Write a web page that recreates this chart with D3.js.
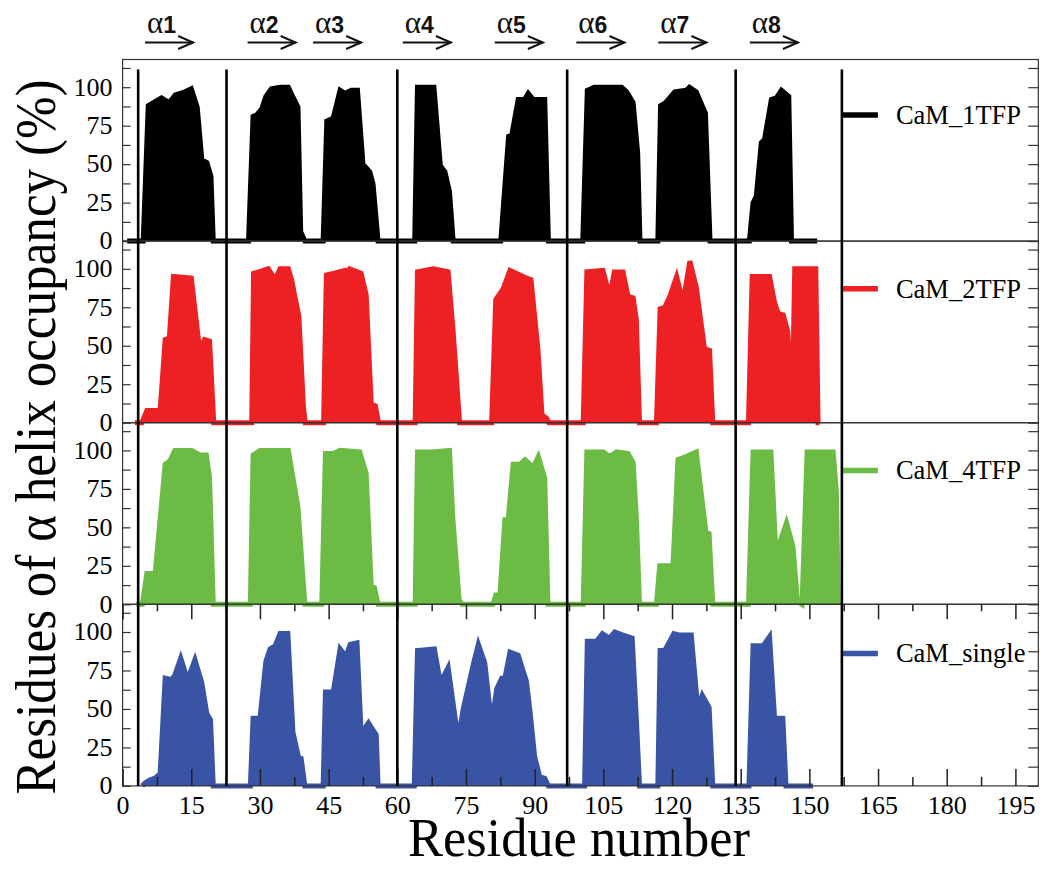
<!DOCTYPE html>
<html>
<head>
<meta charset="utf-8">
<script src="https://cdn.jsdelivr.net/npm/d3@7"></script>
<style>
body { margin: 0; background: #fff; }
</style>
</head>
<body>
<div id="chart"></div>
<script>

var seriesNames = ["CaM_1TFP", "CaM_2TFP", "CaM_4TFP", "CaM_single"];
var seriesColors = ["#000000", "#ed2024", "#6bbb45", "#3953a5"];

// [residue, helix occupancy %] vertices
var oneTFP = [[1,0],[4.5,0],[5.6,88],[6.7,90],[8.5,93],[10.2,90],[11.5,95],[13.6,97],[15,99],[16.3,87],[17.3,53],[18.4,51],[19.3,42],[19.8,0],
    [27.5,0],[28.5,81],[29.3,82],[30.4,86],[31.3,94],[32.5,99],[34.4,100],[36.2,100],[37.3,93],[38.3,87],[38.9,6],[39.8,0],
    [43.8,0],[44.6,78],[46,80],[47.5,98],[48.6,96],[50,98],[51.3,98],[52.5,50],[54,45],[54.7,37],[55.8,0],
    [63.8,0],[64.4,100],[68,100],[69.4,49],[70.4,45],[71.4,32],[72.2,0],
    [82.6,0],[84.3,68],[85,69],[86.4,92],[87.8,92],[88.6,96],[89.7,92],[92.2,92],[93,0],
    [100.5,0],[101.5,98],[103,100],[109,100],[110.1,97],[111.5,90],[112.5,57],[113,0],
    [116.9,0],[117.5,88],[118.6,90],[120.6,97],[123.1,98],[123.8,100],[125.3,97],[127.3,83],[128.3,0],
    [136.9,0],[137.7,25],[138.4,29],[139.5,64],[140.2,66],[141.7,92],[142.8,93],[143.9,98],[145.5,94],[146.1,0],[151.7,0]];

var twoTFP = [[2.7,0],[4.2,0],[5.3,8],[8.2,8],[9.3,54],[10.2,55],[11.1,95],[15,94],[16.8,48],[17.9,54],[19,53],[19.9,0],
    [28.2,0],[28.6,97],[30.7,99],[31.8,100],[33.3,93],[34.4,100],[36.2,100],[36.9,93],[38.5,69],[39.5,10],[39.9,0],
    [43.9,0],[44.5,96],[46,97],[48.6,99],[49,97],[49.6,100],[52.1,97],[53.2,83],[54.3,12],[55.2,11],[55.9,0],
    [63.9,0],[64.4,98],[67.9,100],[71.1,98],[72.2,59],[73.6,0],
    [80.6,0],[81.5,80],[83.1,87],[84.6,99],[86.8,96],[88.2,94],[89.2,93],[90.7,48],[91.6,5],[92.6,3],[93.1,0],
    [100.6,0],[101.4,98],[104.9,99],[106.4,82],[107.4,98],[109.3,98],[110.4,82],[111.5,81],[112.2,67],[112.9,0],
    [116.6,0],[117.4,74],[118.4,75],[119.5,82],[121,95],[122.4,78],[123.9,105],[125.3,88],[127.1,48],[128.2,47],[128.9,0],
    [136.7,0],[137.5,95],[141.3,95],[142.4,78],[143.2,71],[144.3,70],[145.3,59],[146.2,0],[146.8,100],[151.4,100],[151.9,0],[152.2,0]];

var fourTFP = [[3,0],[4.3,0],[5.3,20],[7.1,20],[9.3,91],[10.3,93],[11.4,100],[15.1,100],[16.9,97],[18.3,97],[19,82],[19.8,0],
    [27.9,0],[28.5,97],[30,100],[36.2,100],[38.3,63],[39.8,0],
    [43.5,0],[44.3,98],[46,98],[47.5,100],[51.8,99],[53.2,85],[54.3,12],[55,11],[55.8,0],
    [63.9,0],[64.4,99],[67.5,99],[71.4,100],[72.1,57],[73.5,3],[74.1,0],
    [80.9,0],[81.5,6],[82.4,6],[83.5,55],[84.2,55],[85.3,91],[86.8,91],[87.9,94],[89.7,89],[90.8,96],[92.2,82],[92.9,0],
    [100.6,0],[101.4,99],[105,99],[106.4,96],[107.9,99],[110.4,98],[111.5,92],[112.2,57],[112.9,0],
    [116.6,0],[117.3,25],[120.2,25],[121.3,94],[123.1,96],[125.3,99],[127.4,47],[128.1,46],[128.9,0],
    [136.7,0],[137.7,99],[141.6,99],[142.7,33],[145,53],[146.4,38],[147.4,2],[148.4,0],[149.5,99],[155.2,99],[155.9,73],[156.3,0]];

var single = [[4.3,0],[4.9,2],[6,4],[7.1,5],[8.2,8],[9.3,70],[10.7,69],[11.4,72],[12.7,83],[14.2,69],[15.8,82],[17.3,67],[18.4,47],[19.2,43],[19.8,0],
    [27.9,0],[28.5,44],[30,44],[31.3,81],[32.2,89],[33.3,91],[34.4,99],[36.1,99],[37.2,35],[38.4,19],[39,18],[39.8,0],
    [43.8,0],[44.3,61],[46,61],[47.5,89],[48.8,84],[49.7,92],[51.2,93],[52.1,34],[53.7,41],[55.4,33],[55.8,0],
    [63.7,0],[64.4,88],[68.1,89],[69.4,67],[71.1,77],[73.3,30],[74.4,50],[76.6,79],[77.7,92],[79.1,80],[80.6,40],[81.7,63],[82.8,70],[83.5,70],[84.6,87],[86.4,85],[88.2,68],[89,48],[90,19],[91.1,6],[92.2,5],[93,0],
    [100.9,0],[101.5,94],[103.5,94],[104.8,99],[106.3,96],[107.5,100],[109.3,98],[111.3,96],[112.2,44],[112.9,0],
    [116.9,0],[117.4,88],[118.4,88],[120.4,99],[121.7,98],[124.2,98],[125.6,51],[126.6,59],[128.1,51],[128.9,0],
    [136.8,0],[137.7,91],[139.9,91],[141.3,97],[142.4,44],[144.2,44],[144.9,0],[150.8,0]];

var allSeries = [oneTFP, twoTFP, fourTFP, single];

// domain boundaries (residue numbers) drawn as vertical bars
var dividers = [3.4, 22.7, 60, 97.1, 133.9, 157.1];

var helixNames = ["1", "2", "3", "4", "5", "6", "7", "8"];
var helixStart = [4.9, 27.3, 41.6, 61.2, 81.3, 99.1, 117, 137];

var xTickValues = [0, 15, 30, 45, 60, 75, 90, 105, 120, 135, 150, 165, 180, 195];
var xMinorValues = [7.5, 22.5, 37.5, 52.5, 67.5, 82.5, 97.5, 112.5, 127.5, 142.5, 157.5, 172.5, 187.5];
var yTickValues = [0, 12.5, 25, 37.5, 50, 62.5, 75, 87.5, 100, 112.5];

var legendLevel = [82, 87, 87, 86];

var width = 1046, height = 869;
var left = 122.6, right = 1038.3, top0 = 59.5, panelH = 181.6;
var serif = "'Liberation Serif', 'Times New Roman', serif";

var svg = d3.select("#chart").append("svg")
    .attr("width", width)
    .attr("height", height);

var x = d3.scaleLinear().domain([0, 200]).range([left, right]);

var yScales = allSeries.map(function (s, i) {
    return d3.scaleLinear().domain([0, 118])
        .range([top0 + (i + 1) * panelH, top0 + i * panelH]);
});

//----------------------------- panels

allSeries.forEach(function (data, i) {
    var y = yScales[i];
    var g = svg.append("g");

    var area = d3.area()
        .x(function (d) { return x(d[0]); })
        .y0(y(0))
        .y1(function (d) { return y(d[1]); });
    var line = d3.line()
        .x(function (d) { return x(d[0]); })
        .y(function (d) { return y(d[1]); });

    g.append("path")
        .attr("d", area(data))
        .attr("fill", seriesColors[i]);

    g.append("path")
        .attr("d", line(data))
        .attr("fill", "none")
        .attr("stroke", seriesColors[i])
        .attr("stroke-width", 5);

    // frame
    g.append("rect")
        .attr("x", left)
        .attr("y", top0 + i * panelH)
        .attr("width", right - left)
        .attr("height", panelH)
        .attr("fill", "none")
        .attr("stroke", "#333")
        .attr("stroke-width", 1.2);

    // left ticks + labels
    var yAxisL = g.append("g")
        .attr("transform", "translate(" + left + ",0)")
        .call(d3.axisLeft(y).tickValues(yTickValues).tickSize(-8).tickPadding(10)
            .tickFormat(function (d) { return d % 25 === 0 ? d : ""; }));
    var yAxisR = g.append("g")
        .attr("transform", "translate(" + right + ",0)")
        .call(d3.axisRight(y).tickValues(yTickValues).tickSize(-10).tickFormat(""));
    [yAxisL, yAxisR].forEach(function (a) {
        a.select(".domain").remove();
        a.selectAll("line").attr("stroke", "#333").attr("stroke-width", 1.2);
    });
    yAxisL.selectAll("text")
        .attr("font-family", serif)
        .attr("font-size", 26)
        .attr("fill", "#000")
        .attr("dy", "0.3em");

    // legend
    g.append("line")
        .attr("x1", x(dividers[5]) + 1)
        .attr("x2", x(dividers[5]) + 36)
        .attr("y1", y(legendLevel[i]))
        .attr("y2", y(legendLevel[i]))
        .attr("stroke", seriesColors[i])
        .attr("stroke-width", 5.5);

    g.append("text")
        .attr("x", x(dividers[5]) + 54)
        .attr("y", y(legendLevel[i]))
        .attr("dy", "0.33em")
        .text(seriesNames[i])
        .attr("font-family", serif)
        .attr("font-size", 26.5)
        .style("fill", "#000");
});

//----------------------------- x axis on the last panel

var yLast = top0 + 4 * panelH;
var yTopLast = top0 + 3 * panelH;

var xAxis = svg.append("g")
    .attr("transform", "translate(0," + yLast + ")")
    .call(d3.axisBottom(x).tickValues(xTickValues).tickSize(-17).tickPadding(10));
var xMinor = svg.append("g")
    .attr("transform", "translate(0," + yLast + ")")
    .call(d3.axisBottom(x).tickValues(xMinorValues).tickSize(-9).tickFormat(""));
var xTopAxis = svg.append("g")
    .attr("transform", "translate(0," + yTopLast + ")")
    .call(d3.axisTop(x).tickValues(xTickValues).tickSize(-15).tickFormat(""));
var xTopMinor = svg.append("g")
    .attr("transform", "translate(0," + yTopLast + ")")
    .call(d3.axisTop(x).tickValues(xMinorValues).tickSize(-7).tickFormat(""));

[xAxis, xMinor, xTopAxis, xTopMinor].forEach(function (a) {
    a.select(".domain").remove();
    a.selectAll("line").attr("stroke", "#222").attr("stroke-width", 1.5);
});
xAxis.selectAll("text")
    .attr("font-family", serif)
    .attr("font-size", 26)
    .attr("fill", "#000");

//----------------------------- domain dividers

dividers.forEach(function (d) {
    svg.append("line")
        .attr("x1", x(d))
        .attr("x2", x(d))
        .attr("y1", yScales[0](111.5))
        .attr("y2", yLast)
        .attr("stroke", "#000")
        .attr("stroke-width", 2.6);
});

//----------------------------- helix arrows

helixStart.forEach(function (s, k) {
    var x0 = x(s), x1 = x(s + 10.5);
    svg.append("line")
        .attr("x1", x0).attr("x2", x1)
        .attr("y1", 42.5).attr("y2", 42.5)
        .attr("stroke", "#111")
        .attr("stroke-width", 2);
    svg.append("path")
        .attr("d", "M" + (x1 - 15) + ",36 L" + x1 + ",42.5 L" + (x1 - 15) + ",49")
        .attr("fill", "none")
        .attr("stroke", "#111")
        .attr("stroke-width", 2);
    var t = svg.append("text")
        .attr("x", x0 + 2)
        .attr("y", 32.5)
        .style("fill", "#111");
    t.append("tspan")
        .attr("font-family", serif)
        .attr("font-size", 31)
        .text("α");
    t.append("tspan")
        .attr("font-family", "'Liberation Sans', Arial, sans-serif")
        .attr("font-weight", "bold")
        .attr("font-size", 23)
        .text(helixNames[k]);
});

//----------------------------- titles

svg.append("text")
    .attr("x", 579)
    .attr("y", 856)
    .attr("text-anchor", "middle")
    .attr("textLength", 342)
    .attr("lengthAdjust", "spacingAndGlyphs")
    .attr("font-family", serif)
    .attr("font-size", 54)
    .style("fill", "#000")
    .text("Residue number");

svg.append("text")
    .attr("transform", "translate(55,437) rotate(-90)")
    .attr("text-anchor", "middle")
    .attr("textLength", 715)
    .attr("lengthAdjust", "spacingAndGlyphs")
    .attr("font-family", serif)
    .attr("font-size", 56)
    .style("fill", "#000")
    .text("Residues of α helix occupancy (%)");

</script>
</body>
</html>
